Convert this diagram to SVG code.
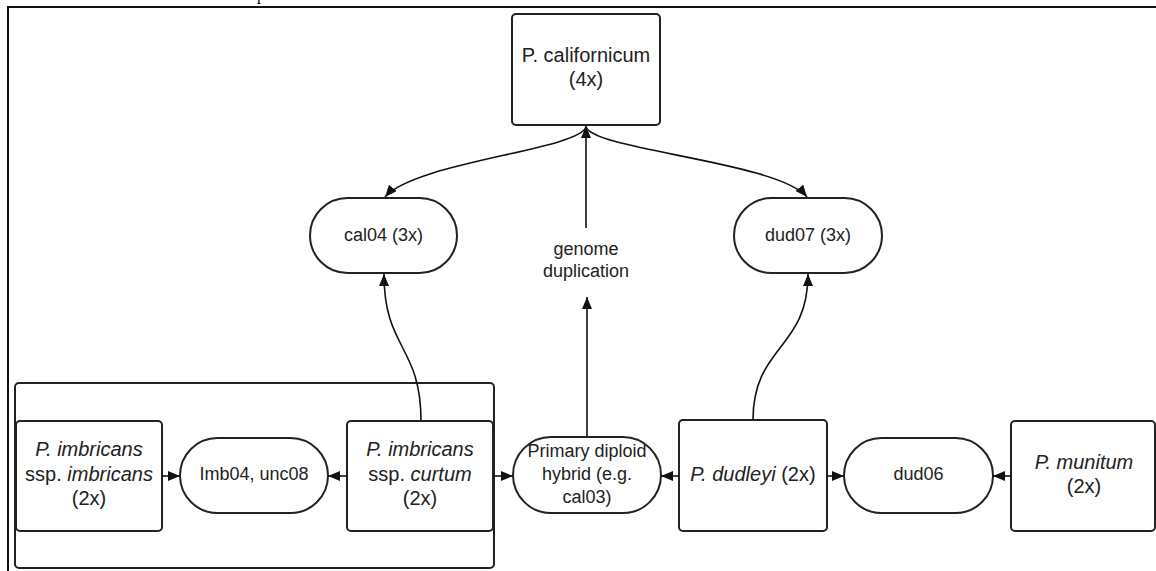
<svg xmlns="http://www.w3.org/2000/svg" width="1156" height="571" viewBox="0 0 1156 571">
<style>
.box{fill:#fff;stroke:#222;stroke-width:2}
.grp{fill:none;stroke:#222;stroke-width:2}
.frame{fill:none;stroke:#111;stroke-width:2}
.t{font-family:"Liberation Sans",Arial,sans-serif;font-size:18px;fill:#222;text-anchor:middle}
.b{font-size:20px}
.i{font-style:italic}
.c{fill:none;stroke:#111;stroke-width:1.6}
</style>
<defs>
<marker id="ah" viewBox="0 0 12 10" refX="12" refY="5" markerWidth="12" markerHeight="10" orient="auto" markerUnits="userSpaceOnUse">
<path d="M0,0 L12,5 L0,10 z" fill="#111"/>
</marker>
</defs>
<rect width="1156" height="571" fill="#fff"/>
<text x="257" y="0" font-family="Liberation Serif, serif" font-size="16" fill="#000">p</text>
<path class="frame" d="M8,571 V7 H1156"/>

<g id="container"><rect class="grp" x="15" y="383" width="479" height="185" rx="4"/></g>

<g id="californicum"><rect class="box" x="512" y="14" width="148" height="111" rx="4"/>
<text class="t b" x="586" y="62">P. californicum</text><text class="t b" x="586" y="86">(4x)</text></g>

<g id="cal04"><rect class="box" x="310" y="198" width="147" height="75" rx="37.5"/>
<text class="t" x="383.5" y="241">cal04 (3x)</text></g>

<g id="dud07"><rect class="box" x="734" y="198" width="148" height="75" rx="37.5"/>
<text class="t" x="808" y="241">dud07 (3x)</text></g>

<g id="imbricans"><rect class="box" x="16" y="421" width="146" height="110" rx="4"/>
<text class="t b i" x="89" y="456">P. imbricans</text>
<text class="t b" x="89" y="480.5">ssp. <tspan class="i">imbricans</tspan></text>
<text class="t b" x="89" y="505">(2x)</text></g>

<g id="imb04"><rect class="box" x="180" y="438" width="148" height="75" rx="37.5"/>
<text class="t" x="254" y="480">Imb04, unc08</text></g>

<g id="curtum"><rect class="box" x="347" y="421" width="146" height="110" rx="4"/>
<text class="t b i" x="420" y="456">P. imbricans</text>
<text class="t b" x="420" y="480.5">ssp. <tspan class="i">curtum</tspan></text>
<text class="t b" x="420" y="505">(2x)</text></g>

<g id="hybrid"><rect class="box" x="513" y="437" width="148" height="76" rx="38"/>
<text class="t" x="587" y="457">Primary diploid</text>
<text class="t" x="587" y="480">hybrid (e.g.</text>
<text class="t" x="587" y="503">cal03)</text></g>

<g id="dudleyi"><rect class="box" x="679" y="420" width="148" height="111" rx="4"/>
<text class="t b" x="753" y="481"><tspan class="i">P. dudleyi</tspan> (2x)</text></g>

<g id="dud06"><rect class="box" x="844" y="438" width="149" height="75" rx="37.5"/>
<text class="t" x="918.5" y="480">dud06</text></g>

<g id="munitum"><rect class="box" x="1011" y="421" width="144" height="110" rx="4"/>
<text class="t b i" x="1084" y="469">P. munitum</text>
<text class="t b" x="1084" y="493">(2x)</text></g>

<g id="connectors">
<path class="c" d="M586,127 C578,150 415,162 385,197" marker-end="url(#ah)"/>
<path class="c" d="M586,127 C594,150 778,162 807,197" marker-end="url(#ah)"/>
<path class="c" d="M586,228 V126" marker-end="url(#ah)"/>
<path class="c" d="M587,437 V297" marker-end="url(#ah)"/>
<text class="t" x="586" y="255">genome</text>
<text class="t" x="586" y="277">duplication</text>
<path class="c" d="M421,421 C421,345 384,350 384,274" marker-end="url(#ah)"/>
<path class="c" d="M753,420 C753,345 808,350 808,274" marker-end="url(#ah)"/>
<path class="c" d="M162,476 H180" marker-end="url(#ah)"/>
<path class="c" d="M347,476 H328" marker-end="url(#ah)"/>
<path class="c" d="M493,476 H513" marker-end="url(#ah)"/>
<path class="c" d="M679,476 H661" marker-end="url(#ah)"/>
<path class="c" d="M827,476 H844" marker-end="url(#ah)"/>
<path class="c" d="M1011,476 H993" marker-end="url(#ah)"/>
</g>
</svg>
